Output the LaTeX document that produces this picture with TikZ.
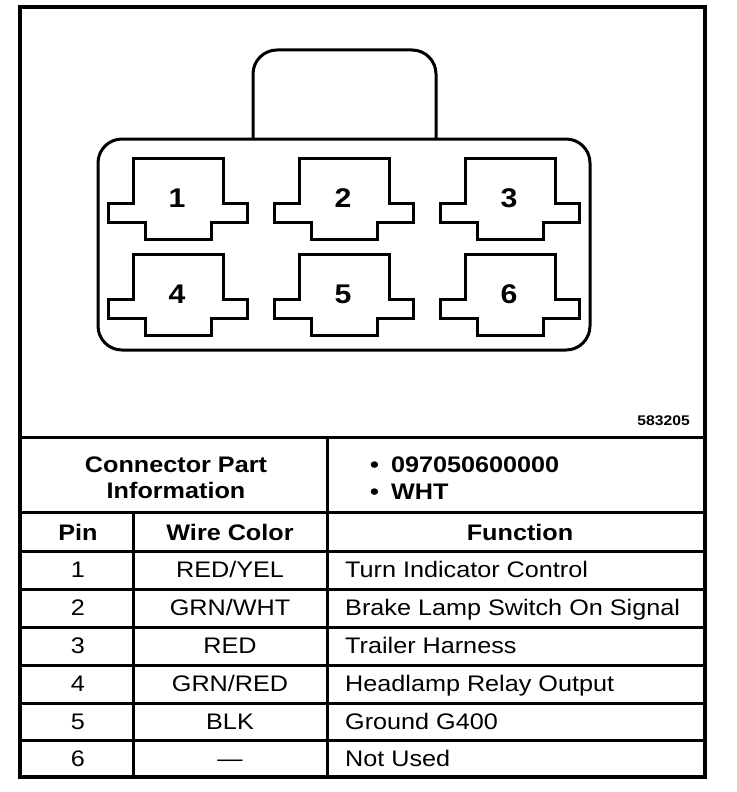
\documentclass[tikz,border=0pt]{standalone}
\usepackage{fontspec}
\setmainfont{Liberation Sans}[FakeStretch=1.12]
\begin{document}
\begin{tikzpicture}[x=1pt,y=-1pt]
\useasboundingbox (0,0) rectangle (736,792);
\tikzset{
  frameline/.style={line width=3.5pt},
  gridline/.style={line width=3pt},
  partline/.style={line width=3pt},
  pinshape/.style={line width=3pt, line join=miter},
  numlbl/.style={font=\fontsize{27}{27}\selectfont\bfseries, inner sep=0pt},
  hdr/.style={font=\fontsize{22.5}{27}\selectfont\bfseries, inner sep=0pt, anchor=base},
  cell/.style={font=\fontsize{22.5}{27}\selectfont, inner sep=0pt, anchor=base},
  cellw/.style={cell, anchor=base west},
  refnum/.style={font=\fontsize{14}{16}\selectfont\bfseries, inner sep=0pt, anchor=base east}
}
% outer frame
\draw[frameline] (20,7) rectangle (705,777);
% connector body and tab
\draw[partline, rounded corners=24pt] (253,139) -- (253,50) -- (436,50) -- (436,139);
\draw[partline, rounded corners=24pt] (98,139) rectangle (590,350);
% pins
\foreach \n/\ox/\oy in {1/133/158, 2/299/158, 3/465/158, 4/133/254, 5/299/254, 6/465/254}{
  \draw[pinshape] (\ox,\oy) -- ++(90,0) -- ++(0,45) -- ++(24,0) -- ++(0,19.5)
     -- ++(-36,0) -- ++(0,16.5) -- ++(-66,0) -- ++(0,-16.5) -- ++(-37,0)
     -- ++(0,-19.5) -- ++(25,0) -- cycle;
  \node[numlbl] (pin\n) at (\ox+44,\oy+40) {\n};
}
\node[refnum] (ref) at (690,425) {583205};
% table lines
\draw[gridline] (20,437) -- (705,437);
\foreach \yy in {512,551,589,627,665,703,740}{
  \draw[gridline] (20,\yy) -- (705,\yy);
}
\draw[gridline] (327,437) -- (327,777);
\draw[gridline] (133,512) -- (133,777);
% part info
\node[hdr] (cp1) at (176,472) {Connector Part};
\node[hdr] (cp2) at (176,498) {Information};
\node[hdr, anchor=base west] (b1) at (370,472) {•\kern 12pt 097050600000};
\node[hdr, anchor=base west] (b2) at (370,499) {•\kern 12pt WHT};
% header
\node[hdr] (hpin) at (78,540) {Pin};
\node[hdr] (hwire) at (230,540) {Wire Color};
\node[hdr] (hfun) at (520,540) {Function};
% rows
\foreach \i/\w/\f/\yb in {1/RED\slash YEL/Turn Indicator Control/577,
  2/GRN\slash WHT/Brake Lamp Switch On Signal/615,
  3/RED/Trailer Harness/653,
  4/GRN\slash RED/Headlamp Relay Output/691,
  5/BLK/Ground G400/729,
  6/—/Not Used/766}{
  \node[cell] (p\i) at (78,\yb) {\i};
  \node[cell] (w\i) at (230,\yb) {\w};
  \node[cellw] (f\i) at (345,\yb) {\f};
}
\end{tikzpicture}
\end{document}
